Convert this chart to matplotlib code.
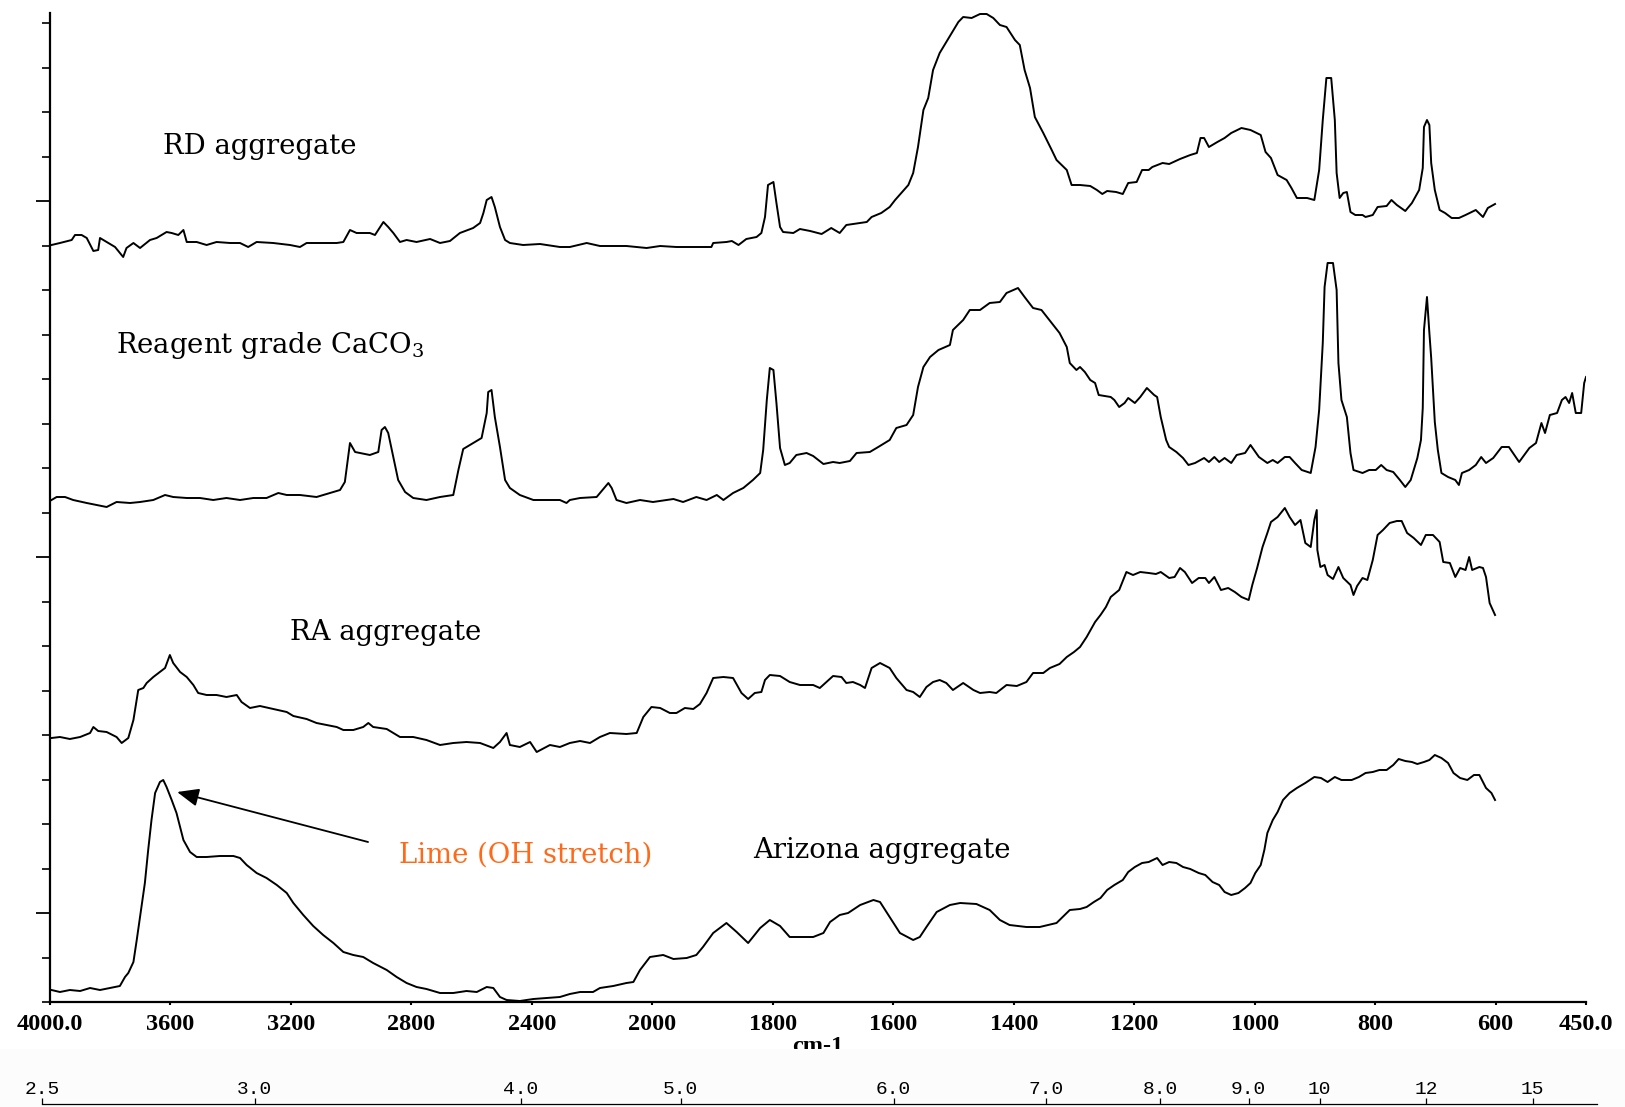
import numpy as np
import matplotlib.pyplot as plt
from matplotlib.patches import Rectangle

plt.rcParams['mathtext.fontset'] = 'dejavuserif'

# wavenumbers (cm-1) and offset absorbance (arbitrary units)
rd_wn = [3995, 3967, 3928, 3917, 3895, 3878, 3856, 3840, 3834, 3812, 3784, 3757, 3746, 3723, 3701,
         3668, 3646, 3613, 3596, 3574, 3557, 3546, 3513, 3480, 3447, 3402, 3369, 3342, 3314, 3259,
         3203, 3170, 3148, 3093, 3048, 3026, 3004, 2982, 2938, 2921, 2904, 2893, 2877, 2860, 2838,
         2816, 2783, 2738, 2705, 2672, 2639, 2595, 2572, 2561, 2550, 2534, 2523, 2506, 2489, 2473,
         2429, 2373, 2307, 2274, 2218, 2174, 2086, 2019, 1987, 1960, 1927, 1902, 1899, 1877, 1868,
         1857, 1844, 1827, 1819, 1813, 1808, 1799, 1794, 1788, 1783, 1766, 1755, 1738, 1719, 1703,
         1689, 1678, 1655, 1644, 1636, 1620, 1606, 1597, 1575, 1567, 1559, 1550, 1542, 1534, 1523,
         1512, 1503, 1492, 1484, 1470, 1456, 1445, 1434, 1423, 1412, 1398, 1390, 1382, 1373, 1365,
         1351, 1337, 1329, 1312, 1304, 1290, 1273, 1262, 1253, 1245, 1230, 1219, 1210, 1196, 1187,
         1176, 1170, 1153, 1142, 1124, 1107, 1096, 1090, 1084, 1076, 1062, 1050, 1039, 1022, 1007,
         990, 982, 973, 962, 947, 939, 930, 913, 901, 893, 887, 881, 873, 867, 864,
         859, 853, 847, 841, 833, 821, 816, 804, 796, 781, 773, 764, 750, 739, 727,
         721, 719, 714, 710, 707, 701, 693, 684, 673, 661, 650, 633, 621, 613, 601]
rd_ab = [757, 759, 762, 767, 767, 764, 751, 752, 764, 760, 755, 745, 754, 759, 754,
         762, 764, 770, 769, 767, 772, 760, 760, 757, 760, 759, 759, 755, 760, 759,
         757, 755, 759, 759, 759, 760, 772, 769, 769, 767, 775, 780, 775, 769, 760,
         762, 760, 763, 759, 761, 769, 774, 779, 789, 802, 805, 795, 775, 762, 759,
         757, 758, 755, 755, 759, 756, 756, 754, 756, 755, 755, 755, 759, 760, 761,
         757, 763, 765, 769, 785, 817, 820, 799, 775, 770, 769, 773, 771, 768, 774,
         769, 777, 779, 780, 785, 789, 795, 802, 817, 829, 855, 892, 904, 932, 949,
         960, 969, 980, 985, 984, 988, 988, 984, 977, 975, 962, 957, 932, 914, 885,
         869, 852, 842, 832, 817, 817, 816, 812, 808, 811, 810, 808, 819, 820, 832,
         832, 835, 839, 838, 843, 847, 849, 864, 864, 855, 860, 864, 869, 874, 872,
         867, 850, 844, 827, 822, 814, 804, 804, 802, 832, 882, 924, 924, 882, 829,
         804, 809, 810, 790, 787, 787, 785, 787, 795, 796, 802, 797, 791, 799, 812,
         834, 875, 882, 877, 839, 812, 792, 789, 784, 784, 787, 792, 785, 794, 798]

caco3_wn = [3995, 3978, 3950, 3923, 3878, 3845, 3812, 3779, 3734, 3701, 3657, 3618, 3591, 3546, 3502,
            3458, 3414, 3369, 3325, 3281, 3242, 3214, 3170, 3115, 3070, 3037, 3021, 3004, 2987, 2938,
            2910, 2899, 2888, 2877, 2860, 2844, 2821, 2794, 2750, 2705, 2661, 2644, 2628, 2595, 2567,
            2550, 2545, 2534, 2523, 2506, 2489, 2473, 2440, 2395, 2351, 2307, 2285, 2274, 2240, 2185,
            2157, 2146, 2135, 2119, 2086, 2041, 1999, 1965, 1949, 1927, 1910, 1893, 1882, 1866, 1849,
            1833, 1821, 1816, 1810, 1805, 1799, 1794, 1788, 1780, 1772, 1761, 1744, 1733, 1716, 1700,
            1689, 1672, 1661, 1639, 1625, 1606, 1595, 1578, 1567, 1559, 1550, 1539, 1525, 1506, 1501,
            1484, 1473, 1456, 1440, 1423, 1412, 1393, 1382, 1368, 1354, 1337, 1324, 1312, 1307, 1296,
            1290, 1282, 1273, 1265, 1259, 1239, 1233, 1225, 1216, 1210, 1199, 1190, 1179, 1167, 1162,
            1156, 1147, 1142, 1130, 1119, 1110, 1099, 1084, 1076, 1067, 1059, 1050, 1039, 1030, 1016,
            1007, 993, 979, 970, 962, 950, 942, 933, 922, 907, 899, 893, 887, 884, 879,
            870, 864, 861, 856, 847, 841, 836, 821, 810, 799, 790, 781, 770, 759, 750,
            741, 730, 724, 721, 719, 714, 710, 707, 701, 696, 690, 679, 667, 661, 656,
            644, 633, 624, 616, 604, 590, 578, 561, 550, 544, 533, 524, 518, 510, 498,
            490, 484, 478, 473, 467, 458, 453, 450]
caco3_ab = [502, 505, 505, 502, 499, 497, 495, 500, 499, 500, 502, 507, 505, 504, 504,
            502, 504, 502, 504, 504, 509, 507, 507, 505, 509, 512, 520, 559, 550, 547,
            550, 572, 575, 569, 545, 522, 510, 504, 502, 505, 507, 532, 553, 559, 564,
            589, 610, 612, 585, 555, 522, 514, 507, 502, 502, 502, 499, 502, 504, 505,
            515, 519, 514, 502, 499, 502, 500, 503, 500, 505, 502, 507, 502, 509, 514,
            522, 529, 552, 602, 634, 632, 599, 554, 537, 539, 547, 549, 546, 538, 540,
            539, 541, 549, 550, 555, 562, 574, 577, 587, 615, 635, 645, 652, 657, 672,
            682, 692, 692, 699, 700, 709, 714, 705, 694, 692, 679, 669, 655, 639, 632,
            635, 630, 622, 619, 607, 605, 602, 595, 599, 604, 599, 605, 614, 607, 605,
            585, 562, 555, 550, 544, 537, 539, 544, 540, 545, 540, 544, 539, 547, 549,
            557, 545, 539, 542, 539, 545, 545, 539, 532, 529, 555, 592, 659, 715, 739,
            739, 712, 639, 602, 585, 549, 532, 529, 532, 532, 537, 532, 530, 522, 515,
            522, 544, 562, 594, 672, 705, 669, 644, 580, 552, 529, 525, 522, 517, 529,
            532, 537, 545, 539, 544, 555, 555, 540, 549, 554, 559, 579, 569, 587, 589,
            602, 605, 599, 609, 589, 589, 619, 625]

ra_wn = [3995, 3967, 3934, 3900, 3867, 3856, 3840, 3812, 3779, 3762, 3740, 3723, 3707, 3690, 3679,
         3657, 3635, 3618, 3602, 3591, 3568, 3546, 3524, 3508, 3480, 3447, 3414, 3380, 3364, 3336,
         3303, 3259, 3214, 3192, 3148, 3115, 3081, 3048, 3026, 2993, 2960, 2943, 2927, 2882, 2860,
         2838, 2794, 2750, 2705, 2661, 2617, 2572, 2528, 2506, 2484, 2473, 2440, 2406, 2384, 2340,
         2307, 2274, 2240, 2207, 2174, 2141, 2086, 2052, 2030, 2003, 1987, 1971, 1960, 1946, 1932,
         1921, 1910, 1899, 1882, 1866, 1852, 1841, 1830, 1819, 1813, 1805, 1788, 1772, 1755, 1733,
         1722, 1711, 1700, 1686, 1678, 1667, 1655, 1647, 1636, 1622, 1606, 1595, 1578, 1567, 1556,
         1545, 1534, 1523, 1512, 1501, 1484, 1467, 1456, 1440, 1429, 1412, 1395, 1379, 1368, 1351,
         1340, 1324, 1312, 1300, 1290, 1279, 1265, 1256, 1247, 1239, 1225, 1213, 1202, 1190, 1176,
         1164, 1156, 1142, 1133, 1124, 1116, 1104, 1093, 1082, 1076, 1067, 1056, 1044, 1033, 1022,
         1010, 1004, 996, 987, 979, 973, 962, 950, 942, 933, 924, 916, 907, 901, 897,
         896, 891, 884, 879, 870, 861, 853, 841, 836, 830, 821, 813, 804, 796, 787,
         776, 764, 756, 747, 736, 724, 716, 704, 693, 687, 676, 667, 659, 650, 644,
         639, 627, 621, 616, 610, 601]
ra_ab = [264, 265, 263, 265, 269, 275, 271, 270, 265, 259, 264, 282, 312, 314, 319,
         325, 330, 334, 347, 339, 330, 325, 317, 309, 307, 307, 305, 307, 300, 294,
         296, 293, 290, 286, 283, 279, 277, 275, 272, 272, 275, 279, 275, 273, 269,
         265, 265, 262, 257, 259, 260, 259, 254, 260, 269, 257, 255, 260, 250, 257,
         255, 259, 261, 259, 265, 269, 268, 269, 285, 295, 294, 289, 289, 294, 293,
         298, 309, 324, 325, 324, 309, 303, 309, 310, 322, 327, 326, 320, 317, 317,
         314, 320, 326, 325, 319, 320, 317, 314, 334, 339, 334, 324, 312, 310, 305,
         315, 320, 322, 319, 312, 319, 312, 309, 310, 309, 317, 316, 320, 329, 329,
         334, 338, 345, 350, 355, 365, 380, 387, 395, 405, 412, 430, 427, 430, 429,
         428, 430, 424, 425, 434, 430, 419, 424, 424, 419, 425, 412, 414, 410, 405,
         402, 417, 434, 455, 469, 480, 485, 494, 485, 477, 482, 459, 455, 482, 492,
         452, 435, 437, 427, 423, 435, 424, 417, 407, 416, 424, 422, 442, 467, 472,
         479, 481, 481, 469, 464, 457, 467, 467, 460, 440, 439, 425, 434, 432, 445,
         432, 435, 434, 425, 399, 387]

az_wn = [3995, 3967, 3934, 3900, 3867, 3834, 3801, 3768, 3751, 3740, 3723, 3712, 3701, 3685, 3674,
         3663, 3651, 3635, 3624, 3613, 3596, 3580, 3557, 3535, 3513, 3480, 3436, 3391, 3369, 3347,
         3314, 3281, 3247, 3214, 3192, 3159, 3126, 3093, 3059, 3026, 2993, 2960, 2927, 2882, 2849,
         2816, 2783, 2750, 2705, 2661, 2617, 2583, 2550, 2528, 2506, 2484, 2440, 2395, 2351, 2307,
         2274, 2240, 2197, 2174, 2130, 2086, 2063, 2041, 2008, 1982, 1965, 1943, 1927, 1916, 1899,
         1877, 1860, 1841, 1821, 1805, 1788, 1772, 1755, 1733, 1716, 1705, 1689, 1675, 1655, 1633,
         1622, 1606, 1589, 1567, 1556, 1545, 1528, 1506, 1489, 1462, 1440, 1423, 1407, 1379, 1357,
         1329, 1307, 1290, 1279, 1267, 1256, 1245, 1233, 1219, 1210, 1199, 1187, 1176, 1162, 1153,
         1142, 1130, 1119, 1107, 1093, 1082, 1070, 1059, 1050, 1039, 1027, 1016, 1007, 999, 990,
         984, 979, 970, 962, 953, 942, 930, 916, 901, 890, 879, 867, 856, 839, 827,
         816, 804, 793, 781, 770, 761, 750, 739, 730, 719, 710, 701, 690, 679, 670,
         659, 647, 636, 627, 621, 616, 607, 601]
az_ab = [12, 10, 12, 11, 14, 12, 14, 16, 25, 29, 40, 62, 85, 119, 152,
         182, 209, 220, 222, 215, 202, 189, 162, 150, 145, 145, 146, 146, 144, 137,
         129, 124, 117, 109, 99, 87, 76, 67, 59, 50, 47, 45, 39, 32, 25,
         19, 15, 13, 9, 9, 11, 10, 15, 14, 5, 2, 1, 3, 4, 5,
         8, 10, 10, 14, 16, 19, 20, 32, 45, 47, 43, 44, 47, 55, 69,
         79, 70, 59, 74, 82, 76, 65, 65, 65, 69, 80, 87, 89, 97, 102,
         100, 85, 69, 62, 65, 75, 90, 97, 99, 98, 92, 82, 77, 75, 75,
         79, 92, 93, 95, 100, 104, 112, 117, 122, 130, 135, 139, 140, 144, 137,
         140, 139, 135, 133, 129, 127, 120, 117, 110, 107, 109, 114, 119, 129, 137,
         152, 169, 182, 190, 202, 209, 214, 219, 225, 224, 220, 225, 222, 222, 225,
         229, 230, 232, 232, 237, 243, 241, 240, 238, 240, 242, 247, 244, 239, 229,
         224, 222, 227, 227, 220, 214, 209, 202]

xticks = [4000, 3600, 3200, 2800, 2400, 2000, 1800, 1600, 1400, 1200, 1000, 800, 600, 450]
xticklabels = ['4000.0', '3600', '3200', '2800', '2400', '2000', '1800', '1600', '1400',
               '1200', '1000', '800', '600', '450.0']
um_ticks = [2.5, 3.0, 4.0, 5.0, 6.0, 7.0, 8.0, 9.0, 10, 12, 15]
um_labels = ['2.5', '3.0', '4.0', '5.0', '6.0', '7.0', '8.0', '9.0', '10', '12', '15']


def fwd(v):
    # spectrometer plots below 2000 cm-1 with double the spacing
    v = np.asarray(v, dtype=float)
    return np.where(v >= 2000, v, 2 * v - 2000)


def inv(t):
    t = np.asarray(t, dtype=float)
    return np.where(t >= 2000, t, (t + 2000) / 2)


W, H = 1625, 1107
fig = plt.figure(figsize=(W / 100, H / 100), dpi=100)
ax = fig.add_axes([50 / W, 1 - 1002 / H, 1536 / W, 989.3 / H])
ax.set_xscale('function', functions=(fwd, inv))
ax.set_xlim(4000, 450)
ax.set_ylim(0, 989.3)

for wn, ab in [(rd_wn, rd_ab), (caco3_wn, caco3_ab), (ra_wn, ra_ab), (az_wn, az_ab)]:
    ax.plot(wn, ab, color='black', lw=1.4)

ax.spines['top'].set_visible(False)
ax.spines['right'].set_visible(False)
ax.spines['left'].set_linewidth(1.6)
ax.spines['bottom'].set_linewidth(1.6)

ax.set_xticks(xticks)
ax.set_xticklabels(xticklabels, fontfamily='Liberation Serif', fontweight='bold', fontsize=17.5)
ax.tick_params(axis='x', direction='out', length=2.5, width=1.5, pad=6)
ax.set_yticks([89, 445, 801])
ax.set_yticks(np.arange(0, 985, 44.5), minor=True)
ax.set_yticklabels([])
ax.tick_params(axis='y', which='major', direction='out', length=10, width=1.3)
ax.tick_params(axis='y', which='minor', direction='out', length=6, width=1.2)
ax.set_xlabel('cm-1', fontfamily='Liberation Serif', fontweight='bold', fontsize=17.5, labelpad=1)

lab = dict(family='DejaVu Serif', fontsize=19.8, va='baseline', ha='left')
ax.text(3625, 848, 'RD aggregate', **lab)
ax.text(3781, 649, 'Reagent grade CaCO$_3$', **lab)
ax.text(3203, 362, 'RA aggregate', **lab)
ax.text(1833, 144, 'Arizona aggregate', **lab)
ax.text(2841, 139, 'Lime (OH stretch)', color='#ff6a1a', **lab)

ax.annotate('', xy=(3578, 210), xytext=(2944, 160),
            arrowprops=dict(arrowstyle='-|>,head_length=0.6,head_width=0.25', color='black',
                            lw=1.3, mutation_scale=22, shrinkA=0, shrinkB=0))

# band that hides the lower half of the cm-1 label, as in the scanned figure
fig.add_artist(Rectangle((0, 0), 1, (H - 1049) / H, transform=fig.transFigure,
                         facecolor='#fcfcfc', edgecolor='none', zorder=1))

# wavelength (micrometre) scale
ax2 = fig.add_axes([41.8 / W, 1 - 1104 / H, (1597 - 41.8) / W, 6 / H])
ax2.set_zorder(2)
ax2.patch.set_visible(False)
ax2.set_xscale('function', functions=(fwd, inv))
ax2.set_xlim(4000, 566)
for s in ['top', 'left', 'right']:
    ax2.spines[s].set_visible(False)
ax2.spines['bottom'].set_linewidth(0.9)
ax2.set_yticks([])
ax2.set_xticks([10000 / u for u in um_ticks])
ax2.set_xticklabels(um_labels, fontfamily='Liberation Mono', fontsize=14)
ax2.tick_params(axis='x', direction='in', length=4, width=0.9, bottom=True, top=False,
                labelbottom=False, labeltop=True, pad=0)

fig.savefig('out.png', dpi=100)
